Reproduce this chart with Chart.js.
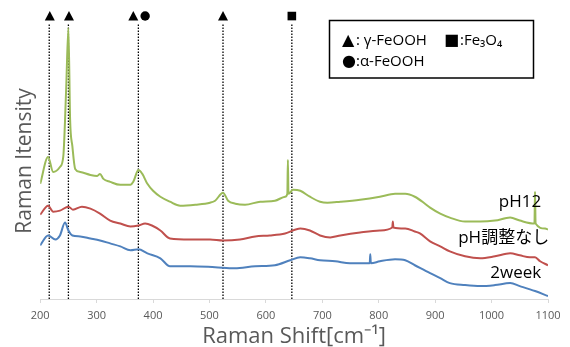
<!DOCTYPE html>
<html>
<head>
<meta charset="utf-8">
<script src="https://cdn.jsdelivr.net/npm/chart.js@4.4.1/dist/chart.umd.min.js"></script>
<style>
  html, body { margin: 0; padding: 0; background: #ffffff; }
  #wrap { width: 570px; height: 347px; position: relative; }
</style>
</head>
<body>
<div id="wrap"><canvas id="ramanChart"></canvas></div>
<script>
// ラマンスペクトル (値は図から読み取り、強度は任意単位)
const pH12Shift = [200, 214, 223, 235, 241, 246, 250, 253, 257, 262, 271, 289, 301, 306, 312, 324, 342, 360, 365, 374, 381, 390, 400, 413, 430, 448, 475, 501, 510, 524, 533, 546, 563, 590, 616, 634, 638, 639, 640, 648, 661, 678, 696, 709, 732, 767, 802, 829, 847, 864, 882, 891, 909, 926, 953, 980, 1006, 1033, 1050, 1076, 1077, 1078, 1095, 1100];
const pH12Intensity = [116, 143, 128, 133, 144, 211, 273, 181, 154, 131, 128, 125, 124, 126, 121, 118, 115, 115, 118, 130, 126, 116, 109, 103, 98, 94, 95, 97, 99, 107, 99, 96, 95, 98, 99, 103, 106, 140, 106, 110, 109, 103, 98, 97, 98, 100, 103, 106, 106, 103, 96, 92, 86, 82, 78, 78, 79, 82, 79, 76, 108, 76, 71, 70];

const noAdjShift = [200, 214, 223, 235, 250, 258, 274, 289, 306, 324, 342, 360, 374, 386, 398, 413, 430, 466, 501, 524, 554, 581, 607, 634, 661, 678, 696, 714, 732, 767, 802, 824, 825, 826, 847, 864, 873, 891, 909, 926, 953, 980, 1006, 1033, 1050, 1068, 1077, 1086, 1100];
const noAdjIntensity = [85, 94, 88, 89, 93, 90, 93, 91, 86, 79, 76, 73, 74, 76, 74, 69, 61, 60, 60, 59, 60, 63, 64, 66, 71, 69, 64, 62, 64, 67, 69, 72, 78, 72, 71, 68, 66, 58, 53, 48, 43, 41, 43, 46, 44, 42, 42, 38, 34];

const week2Shift = [200, 214, 227, 235, 244, 250, 257, 271, 289, 306, 324, 342, 360, 374, 390, 413, 430, 466, 510, 545, 581, 616, 643, 661, 678, 696, 723, 749, 767, 784, 785, 786, 802, 829, 847, 864, 891, 909, 926, 953, 980, 1006, 1033, 1050, 1077, 1100];
const week2Intensity = [54, 64, 60, 64, 77, 69, 64, 63, 61, 59, 56, 53, 49, 50, 46, 41, 33, 33, 32, 31, 33, 34, 39, 42, 41, 39, 38, 36, 36, 36, 45, 36, 38, 40, 39, 34, 26, 21, 16, 14, 13, 14, 16, 13, 8, 3];

// ピーク帰属 (▲: γ-FeOOH, ●: α-FeOOH, ■: Fe3O4)
const peakLines = [216, 250, 374, 524, 646];
const markerShift = [217, 251, 365, 386, 524, 646];
const markerStyle = ['triangle', 'triangle', 'triangle', 'circle', 'triangle', 'rect'];
const markerLevel = 285;
const peakLineTop = 279;

// 系列ラベル
const seriesNames = ['pH12', 'pH調整なし', '2week'];
const seriesColors = ['#9BBB59', '#C0504D', '#4F81BD'];
const labelShift = [1088, 1102, 1088];
const labelIntensity = [98, 61, 26];

const xTicks = [200, 300, 400, 500, 600, 700, 800, 900, 1000, 1100];

const toPoints = (xs, ys) => xs.map((x, i) => ({ x: x, y: ys[i] }));

const datasets = [
    { data: toPoints(pH12Shift, pH12Intensity), borderColor: seriesColors[0] },
    { data: toPoints(noAdjShift, noAdjIntensity), borderColor: seriesColors[1] },
    { data: toPoints(week2Shift, week2Intensity), borderColor: seriesColors[2] }
].map(d => Object.assign(d, {
    showLine: true,
    borderWidth: 2,
    pointRadius: 0,
    cubicInterpolationMode: 'monotone'
}));

peakLines.forEach(p => {
    datasets.push({
        data: [{ x: p, y: 0 }, { x: p, y: peakLineTop }],
        showLine: true,
        borderColor: '#000000',
        borderWidth: 1.3,
        borderDash: [1.5, 1.5],
        pointRadius: 0
    });
});

// 上部マーカー・凡例ボックス・系列ラベル
const annotationPlugin = {
    id: 'annotations',
    afterDraw(chart) {
        const ctx = chart.ctx;
        const xs = chart.scales.x, ys = chart.scales.y;
        ctx.save();

        ctx.fillStyle = '#000000';
        const my = ys.getPixelForValue(markerLevel);
        markerShift.forEach((s, i) => {
            const mx = xs.getPixelForValue(s);
            ctx.beginPath();
            if (markerStyle[i] === 'triangle') {
                ctx.moveTo(mx, my - 5);
                ctx.lineTo(mx + 5, my + 4.5);
                ctx.lineTo(mx - 5, my + 4.5);
                ctx.closePath();
            } else if (markerStyle[i] === 'circle') {
                ctx.arc(mx, my, 4.7, 0, Math.PI * 2);
            } else {
                ctx.rect(mx - 4.3, my - 4.3, 8.6, 8.6);
            }
            ctx.fill();
        });

        ctx.strokeStyle = '#000000';
        ctx.lineWidth = 1.5;
        ctx.strokeRect(329.5, 20.5, 204, 57.5);
        ctx.textBaseline = 'middle';
        ctx.textAlign = 'left';
        ctx.font = '16px "DejaVu Sans", sans-serif';
        ctx.fillText('▲', 342, 41);
        ctx.fillText('■', 444, 41);
        ctx.fillText('●', 342, 62);
        ctx.font = '15px "Open Sans", "DejaVu Sans", sans-serif';
        ctx.fillText(': γ-FeOOH', 356, 41);
        ctx.fillText(':Fe₃O₄', 460, 41);
        ctx.fillText(':α-FeOOH', 356, 62);

        ctx.textAlign = 'right';
        ctx.font = '17px "Open Sans", "Noto Sans CJK JP", sans-serif';
        seriesNames.forEach((name, i) => {
            ctx.fillText(name, xs.getPixelForValue(labelShift[i]), ys.getPixelForValue(labelIntensity[i]));
        });
        ctx.restore();
    }
};

new Chart(document.getElementById('ramanChart'), {
    type: 'scatter',
    data: { datasets: datasets },
    options: {
        responsive: true,
        maintainAspectRatio: false,
        animation: false,
        layout: { padding: { top: 23, left: 12, right: 22, bottom: 0 } },
        plugins: {
            legend: { display: false },
            tooltip: { enabled: false }
        },
        scales: {
            x: {
                type: 'linear',
                min: 200,
                max: 1100,
                afterBuildTicks: axis => { axis.ticks = xTicks.map(v => ({ value: v })); },
                grid: { drawOnChartArea: false, drawTicks: true, tickLength: 4, color: '#D9D9D9' },
                border: { color: '#D9D9D9', width: 1 },
                ticks: {
                    color: '#595959',
                    font: { size: 11, family: '"Open Sans", sans-serif' },
                    padding: 6.4,
                    maxRotation: 0,
                    callback: v => String(v)
                },
                title: {
                    display: true,
                    text: 'Raman Shift[cm⁻¹]',
                    color: '#595959',
                    font: { size: 22, family: '"Open Sans", sans-serif', lineHeight: '16px' },
                    padding: { top: 0, bottom: 2 }
                }
            },
            y: {
                min: 0,
                max: 278,
                grid: { display: false, drawTicks: false },
                border: { display: false },
                ticks: { display: false },
                title: {
                    display: true,
                    text: 'Raman Itensity',
                    color: '#595959',
                    font: { size: 21, family: '"Open Sans", sans-serif', lineHeight: 1.2 },
                    padding: { top: 0, bottom: 3 }
                }
            }
        }
    },
    plugins: [annotationPlugin]
});
</script>
</body>
</html>
